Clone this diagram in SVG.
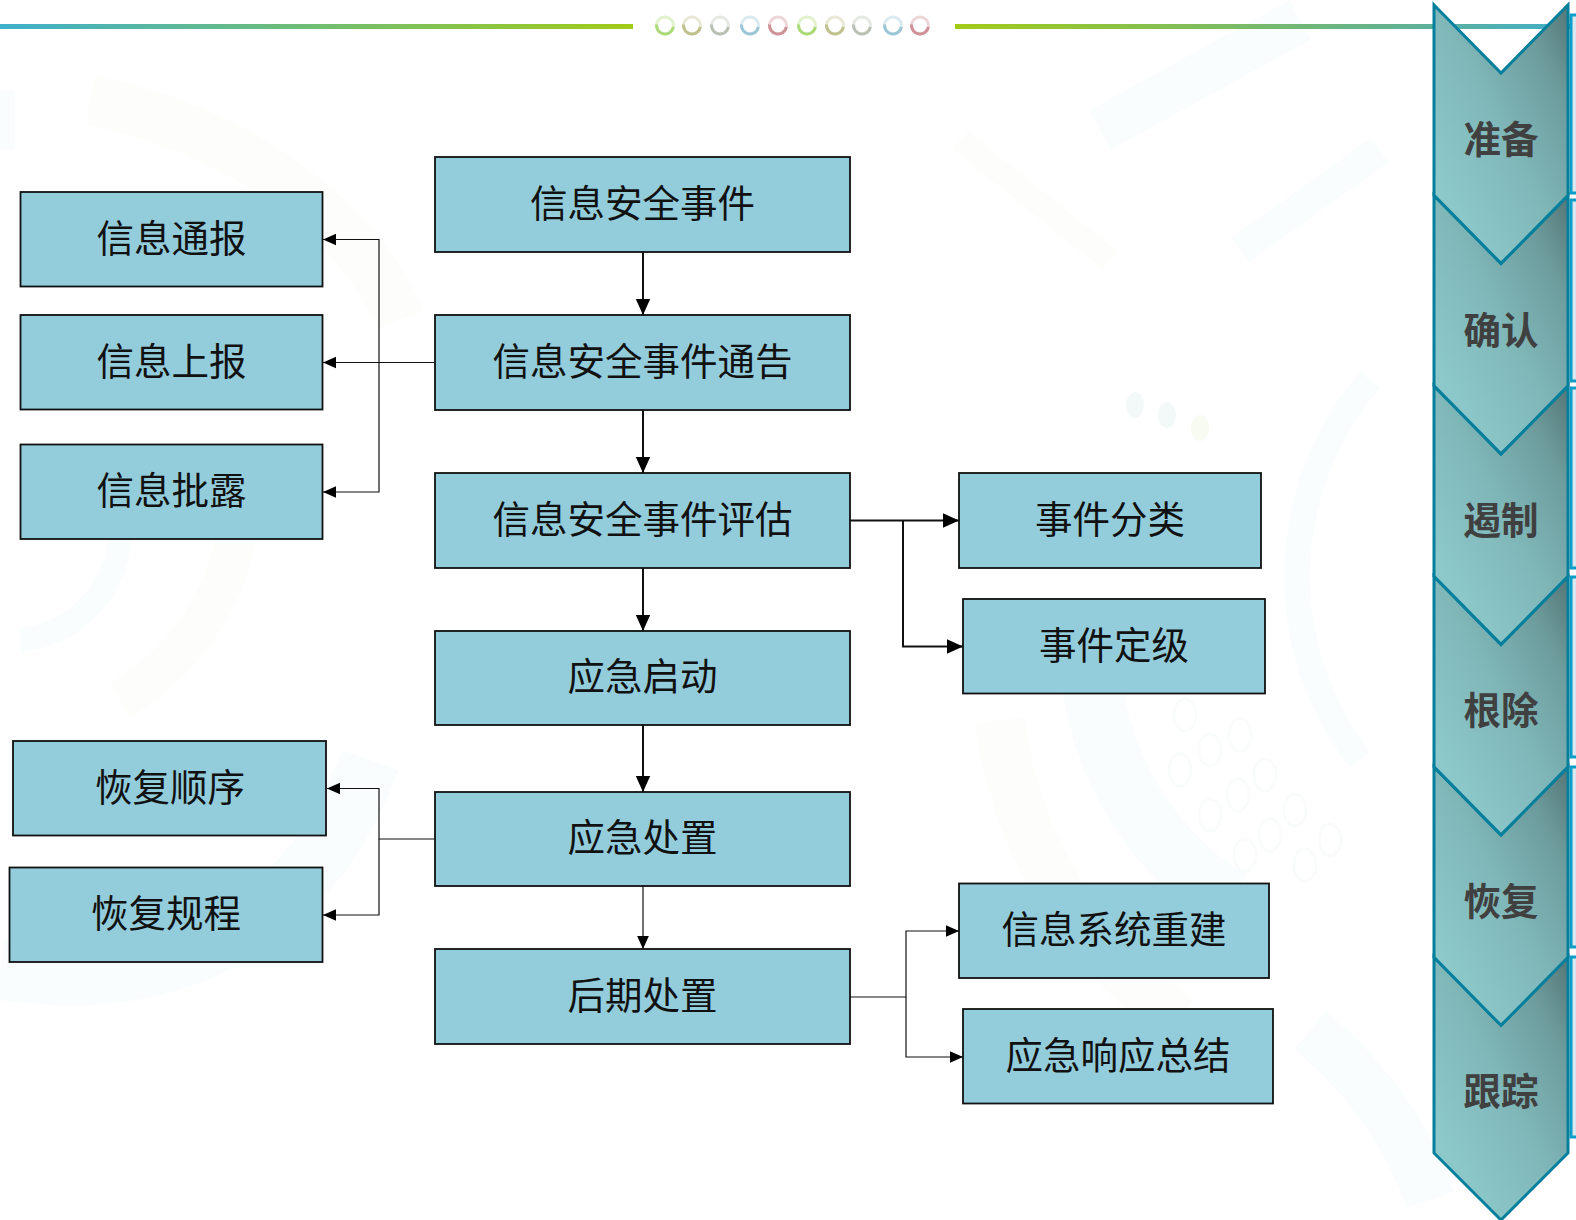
<svg xmlns="http://www.w3.org/2000/svg" width="1576" height="1220" viewBox="0 0 1576 1220">
<defs>
<linearGradient id="chev" x1="0" y1="1" x2="1" y2="0"><stop offset="0" stop-color="#93d0d3"/><stop offset="0.5" stop-color="#80b8ba"/><stop offset="0.8" stop-color="#6d9c9d"/><stop offset="1" stop-color="#557676"/></linearGradient>
<linearGradient id="topL" x1="0" x2="1" y1="0" y2="0"><stop offset="0" stop-color="#3fb0cc"/><stop offset="1" stop-color="#a2cb18"/></linearGradient>
<linearGradient id="topR" x1="0" x2="1" y1="0" y2="0"><stop offset="0" stop-color="#a2cb18"/><stop offset="0.75" stop-color="#5fb098"/><stop offset="1" stop-color="#3fb0cc"/></linearGradient>
<marker id="a" viewBox="0 0 10 10" refX="10" refY="5" markerUnits="userSpaceOnUse" markerWidth="14" markerHeight="13" orient="auto"><path d="M0 0.5L10 5L0 9.5Z" fill="#000"/></marker>
<marker id="b" viewBox="0 0 10 10" refX="10" refY="5" markerUnits="userSpaceOnUse" markerWidth="17" markerHeight="16" orient="auto"><path d="M0 0.5L10 5L0 9.5Z" fill="#000"/></marker>
<path id="chevShape" d="M1434 0L1501 68L1568 0V190.4L1501 258.4L1434 190.4Z"/>
</defs>
<style>
.n{fill:#93cddc;stroke:#111;stroke-width:1.8}
.t{font-family:"Liberation Sans","Noto Sans CJK SC",sans-serif;font-size:37.5px;text-anchor:middle;fill:#111}
.c{stroke:#111;stroke-width:1.2;fill:none}
.h{stroke-width:2}
.ch{fill:url(#chev);stroke:#067f9c;stroke-width:3}
.cl{font-family:"Liberation Sans","Noto Sans CJK SC",sans-serif;font-size:37.5px;font-weight:700;text-anchor:middle;fill:#404040}
.bg{fill:none;stroke-opacity:.035}
.gr{stroke:#7fc0c0}
.yl{stroke:#c8dc90}
.dot{fill:none;stroke:#7fa8a8;stroke-width:3;stroke-opacity:.035}
.p{fill:#d8e7f0;stroke:#0a9ec8;stroke-width:3}
.r{fill:none;stroke-width:3;stroke-opacity:.35}
.ra{fill:none;stroke-width:3;stroke-dasharray:26 28;stroke-opacity:.9}
</style>
<rect width="1576" height="1220" fill="#fff"/>
<g id="background">
<path class="bg yl" stroke-width="50" d="M1000 720A430 430 0 0 0 1180 1020"/>
<path class="bg gr" stroke-width="45" d="M1100 130L1300 20"/>
<path class="bg gr" stroke-width="30" d="M1240 250L1380 150"/>
<path class="bg gr" stroke-width="26" d="M1370 380A300 300 0 0 0 1360 760"/>
<path class="bg gr" stroke-width="60" d="M1230 900A300 300 0 0 1 1090 640"/>
<path class="bg yl" stroke-width="24" d="M960 140L1110 260"/>
<path class="bg yl" stroke-width="50" d="M90 100C240 130 360 220 400 320"/>
<path class="bg yl" stroke-width="40" d="M240 500A240 240 0 0 1 120 700"/>
<path class="bg gr" stroke-width="24" d="M120 530A110 110 0 0 1 20 640"/>
<path class="bg gr" stroke-width="30" d="M0 90V150"/>
<path class="bg gr" stroke-width="60" d="M0 970C200 1000 320 900 370 760"/>
<path class="bg gr" stroke-width="50" d="M1310 1030C1370 1080 1410 1140 1430 1200"/>
<ellipse class="dot" cx="1185" cy="715" rx="11" ry="16"/>
<ellipse class="dot" cx="1240" cy="735" rx="11" ry="16"/>
<ellipse class="dot" cx="1210" cy="750" rx="11" ry="16"/>
<ellipse class="dot" cx="1180" cy="770" rx="11" ry="16"/>
<ellipse class="dot" cx="1265" cy="775" rx="11" ry="16"/>
<ellipse class="dot" cx="1238" cy="795" rx="11" ry="16"/>
<ellipse class="dot" cx="1295" cy="810" rx="11" ry="16"/>
<ellipse class="dot" cx="1210" cy="815" rx="11" ry="16"/>
<ellipse class="dot" cx="1270" cy="835" rx="11" ry="16"/>
<ellipse class="dot" cx="1330" cy="840" rx="11" ry="16"/>
<ellipse class="dot" cx="1245" cy="855" rx="11" ry="16"/>
<ellipse class="dot" cx="1305" cy="865" rx="11" ry="16"/>
<ellipse cx="1135" cy="405" rx="9" ry="13" fill="#9cc" fill-opacity=".12"/>
<ellipse cx="1167" cy="415" rx="9" ry="13" fill="#9cc" fill-opacity=".12"/>
<ellipse cx="1200" cy="428" rx="9" ry="13" fill="#c8dc90" fill-opacity=".12"/>
</g>
<g id="top-rule">
<rect x="0" y="24" width="633" height="5" fill="url(#topL)"/>
<rect x="955" y="24" width="621" height="5" fill="url(#topR)"/>
<g>
<g stroke="#a5d76e"><circle class="r" cx="665" cy="25.500" r="8.500"/><circle class="ra" cx="665" cy="25.500" r="8.500" transform="rotate(10 665 25.500)"/></g>
<g stroke="#bcbd85"><circle class="r" cx="692" cy="25.500" r="8.500"/><circle class="ra" cx="692" cy="25.500" r="8.500" transform="rotate(10 692 25.500)"/></g>
<g stroke="#b5bcae"><circle class="r" cx="720" cy="25.500" r="8.500"/><circle class="ra" cx="720" cy="25.500" r="8.500" transform="rotate(10 720 25.500)"/></g>
<g stroke="#93c2d3"><circle class="r" cx="750" cy="25.500" r="8.500"/><circle class="ra" cx="750" cy="25.500" r="8.500" transform="rotate(10 750 25.500)"/></g>
<g stroke="#cb8a90"><circle class="r" cx="778" cy="25.500" r="8.500"/><circle class="ra" cx="778" cy="25.500" r="8.500" transform="rotate(10 778 25.500)"/></g>
<g stroke="#a5d76e"><circle class="r" cx="807" cy="25.500" r="8.500"/><circle class="ra" cx="807" cy="25.500" r="8.500" transform="rotate(10 807 25.500)"/></g>
<g stroke="#bcbd85"><circle class="r" cx="835" cy="25.500" r="8.500"/><circle class="ra" cx="835" cy="25.500" r="8.500" transform="rotate(10 835 25.500)"/></g>
<g stroke="#b5bcae"><circle class="r" cx="862" cy="25.500" r="8.500"/><circle class="ra" cx="862" cy="25.500" r="8.500" transform="rotate(10 862 25.500)"/></g>
<g stroke="#93c2d3"><circle class="r" cx="893" cy="25.500" r="8.500"/><circle class="ra" cx="893" cy="25.500" r="8.500" transform="rotate(10 893 25.500)"/></g>
<g stroke="#cb8a90"><circle class="r" cx="920" cy="25.500" r="8.500"/><circle class="ra" cx="920" cy="25.500" r="8.500" transform="rotate(10 920 25.500)"/></g>
</g>
</g>
<g id="connectors">
<path class="c h" d="M643 252V315" marker-end="url(#b)"/>
<path class="c h" d="M643 410V473" marker-end="url(#b)"/>
<path class="c h" d="M643 568V631" marker-end="url(#b)"/>
<path class="c h" d="M643 725V792" marker-end="url(#b)"/>
<path class="c" d="M643 886V949" marker-end="url(#a)"/>
<path class="c" d="M435 362.500H323" marker-end="url(#a)"/>
<path class="c" d="M379 362.500V239.500H323" marker-end="url(#a)"/>
<path class="c" d="M379 362.500V492H323" marker-end="url(#a)"/>
<path class="c h" d="M850 520.500H959" marker-end="url(#b)"/>
<path class="c h" d="M903 520.500V646.500H963" marker-end="url(#b)"/>
<path class="c" d="M435 839H379V788.500H327" marker-end="url(#a)"/>
<path class="c" d="M379 839V915H323" marker-end="url(#a)"/>
<path class="c" d="M850 997H906V931H959" marker-end="url(#a)"/>
<path class="c" d="M906 997V1057H963" marker-end="url(#a)"/>
</g>
<g id="n1"><rect class="n" x="435" y="157" width="415" height="95"/><text class="t" x="642.500" y="216.500">信息安全事件</text></g>
<g id="n2"><rect class="n" x="435" y="315" width="415" height="95"/><text class="t" x="642.500" y="374.500">信息安全事件通告</text></g>
<g id="n3"><rect class="n" x="435" y="473" width="415" height="95"/><text class="t" x="642.500" y="532.500">信息安全事件评估</text></g>
<g id="n4"><rect class="n" x="435" y="631" width="415" height="94"/><text class="t" x="642.500" y="690">应急启动</text></g>
<g id="n5"><rect class="n" x="435" y="792" width="415" height="94"/><text class="t" x="642.500" y="851">应急处置</text></g>
<g id="n6"><rect class="n" x="435" y="949" width="415" height="95"/><text class="t" x="642.500" y="1008.500">后期处置</text></g>
<g id="n7"><rect class="n" x="20.500" y="192" width="302" height="94.500"/><text class="t" x="171.500" y="251.500">信息通报</text></g>
<g id="n8"><rect class="n" x="20.500" y="315" width="302" height="94.500"/><text class="t" x="171.500" y="374.500">信息上报</text></g>
<g id="n9"><rect class="n" x="20.500" y="444.500" width="302" height="94.500"/><text class="t" x="171.500" y="503.500">信息批露</text></g>
<g id="n10"><rect class="n" x="13" y="741" width="313" height="94.500"/><text class="t" x="170" y="800.500">恢复顺序</text></g>
<g id="n11"><rect class="n" x="9.500" y="867.500" width="313" height="94.500"/><text class="t" x="166" y="926.500">恢复规程</text></g>
<g id="n12"><rect class="n" x="959" y="473" width="302" height="95"/><text class="t" x="1110" y="532.500">事件分类</text></g>
<g id="n13"><rect class="n" x="963" y="599" width="302" height="94.500"/><text class="t" x="1114" y="658.500">事件定级</text></g>
<g id="n14"><rect class="n" x="959" y="883.500" width="310" height="94.500"/><text class="t" x="1114" y="942.500">信息系统重建</text></g>
<g id="n15"><rect class="n" x="963" y="1009" width="310" height="94.500"/><text class="t" x="1118" y="1068.500">应急响应总结</text></g>
<g id="panels">
<rect class="p" x="1571" y="15" width="10" height="178"/>
<rect class="p" x="1571" y="200" width="10" height="181"/>
<rect class="p" x="1571" y="388" width="10" height="180"/>
<rect class="p" x="1571" y="577" width="10" height="180"/>
<rect class="p" x="1571" y="767" width="10" height="180"/>
<rect class="p" x="1571" y="957" width="10" height="180"/>
</g>
<g id="s6"><path class="ch" d="M1434 957L1501 1025L1568 957V1153L1501 1220L1434 1153Z"/><text class="cl" x="1501" y="1105">跟踪</text></g>
<g id="s5"><use href="#chevShape" class="ch" y="767"/><text class="cl" x="1501" y="914.500">恢复</text></g>
<g id="s4"><use href="#chevShape" class="ch" y="576.500"/><text class="cl" x="1501" y="724">根除</text></g>
<g id="s3"><use href="#chevShape" class="ch" y="386"/><text class="cl" x="1501" y="534">遏制</text></g>
<g id="s2"><use href="#chevShape" class="ch" y="195.500"/><text class="cl" x="1501" y="343.500">确认</text></g>
<g id="s1"><use href="#chevShape" class="ch" y="5"/><text class="cl" x="1501" y="153">准备</text></g>
</svg>
